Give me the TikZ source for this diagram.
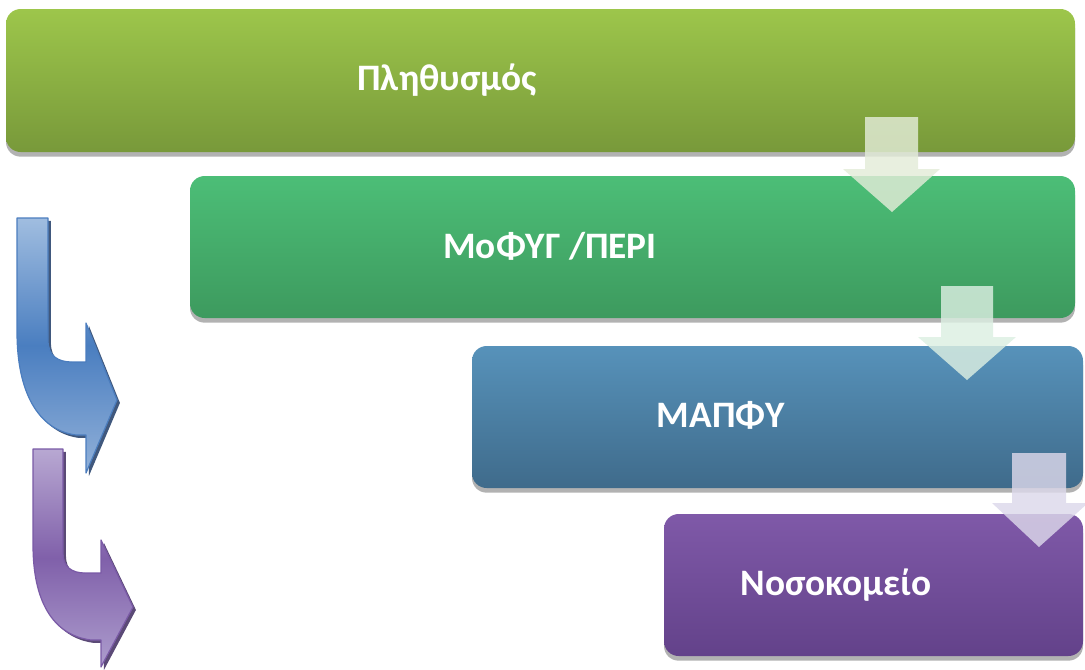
\documentclass[tikz,border=0pt]{standalone}
\usepackage{fontspec}
\setmainfont{Carlito}
\usetikzlibrary{shadows}
\definecolor{oliveT}{HTML}{9DC64B}
\definecolor{oliveB}{HTML}{78993A}
\definecolor{grnT}{HTML}{4CBE77}
\definecolor{grnB}{HTML}{3D9A5E}
\definecolor{bluT}{HTML}{5792BA}
\definecolor{bluB}{HTML}{3F6B8B}
\definecolor{purT}{HTML}{7F59A8}
\definecolor{purB}{HTML}{63428A}
\definecolor{cblT}{HTML}{A0BDE0}
\definecolor{cblM}{HTML}{4A7EC0}
\definecolor{cblB}{HTML}{92B1D9}
\definecolor{cblE}{HTML}{4B7DBE}
\definecolor{cblS}{HTML}{1F3B66}
\definecolor{cpuT}{HTML}{B8A8D2}
\definecolor{cpuM}{HTML}{8060AA}
\definecolor{cpuB}{HTML}{AD9DCD}
\definecolor{cpuE}{HTML}{7A5AA6}
\definecolor{cpuS}{HTML}{3E2A5E}
\definecolor{ar1}{HTML}{E3ECD8}
\definecolor{ar2}{HTML}{DCEFE2}
\definecolor{ar3}{HTML}{DCD8EA}
\tikzset{
  x=0.75pt, y=-0.75pt,
  stage/.style={rectangle, rounded corners=11pt, inner sep=0pt, outer sep=0pt,
    minimum height=106.5pt,
    drop shadow={shadow xshift=0pt, shadow yshift=-3.5pt, opacity=0.3, fill=black}},
  lbl/.style={text=white, font=\fontsize{28}{33}\selectfont\bfseries, inner sep=0pt},
  downarrow/.style={opacity=0.82, draw=none},
  curvearrow/.style={line width=0.9pt, line join=round}
}
\begin{document}
\begin{tikzpicture}
\useasboundingbox (0,0) rectangle (1085,669);
% stages
\node[stage, top color=oliveT, bottom color=oliveB, minimum width=801.75pt, minimum height=107.25pt] (b1) at (540.5,80.5) {};
\node[stage, top color=grnT, bottom color=grnB, minimum width=663.75pt] (b2) at (632.5,247) {};
\node[stage, top color=bluT, bottom color=bluB, minimum width=458.25pt] (b3) at (777.5,417) {};
\node[stage, top color=purT, bottom color=purB, minimum width=314.25pt] (b4) at (873.5,585) {};
% labels
\node[lbl] (t1) at (447,80) {Πληθυσμός};
\node[lbl] (t2) at (550,246) {ΜοΦΥΓ /ΠΕΡΙ};
\node[lbl] (t3) at (721,415) {ΜΑΠΦΥ};
\node[lbl] (t4) at (836,585) {Νοσοκομείο};
% down arrows
\fill[downarrow, fill=ar1] (865,117) -- (918,117) -- (918,169) -- (940,169) -- (892,212) -- (843,169) -- (865,169) -- cycle;
\fill[downarrow, fill=ar2] (941,286) -- (993,286) -- (993,337) -- (1016,337) -- (967,380) -- (918,337) -- (941,337) -- cycle;
\fill[downarrow, fill=ar3] (1012,453) -- (1066,453) -- (1066,503) -- (1088,503) -- (1039,547) -- (992,503) -- (1012,503) -- cycle;
% curved arrows
\path[curvearrow, draw=cblE, top color=cblT, bottom color=cblB, middle color=cblM,
  drop shadow={shadow xshift=2.2pt, shadow yshift=-2.2pt, opacity=0.85, fill=cblS}]
  (17,218) -- (48,218) -- (48,340) .. controls (48,356) and (58,362) .. (72,362) -- (86,362)
  -- (86,323) -- (117,400) -- (86,473) -- (86,435) -- (76,435)
  .. controls (38,430) and (17,392) .. (17,332) -- cycle;
\path[curvearrow, draw=cpuE, top color=cpuT, bottom color=cpuB, middle color=cpuM,
  drop shadow={shadow xshift=2.2pt, shadow yshift=-2.2pt, opacity=0.85, fill=cpuS}]
  (33,449) -- (63,449) -- (63,553) .. controls (63,567) and (72,573) .. (85,573) -- (101,573)
  -- (101,540) -- (133,607) -- (101,667) -- (101,640) -- (91,640)
  .. controls (52,635) and (33,600) .. (33,545) -- cycle;
\end{tikzpicture}
\end{document}
